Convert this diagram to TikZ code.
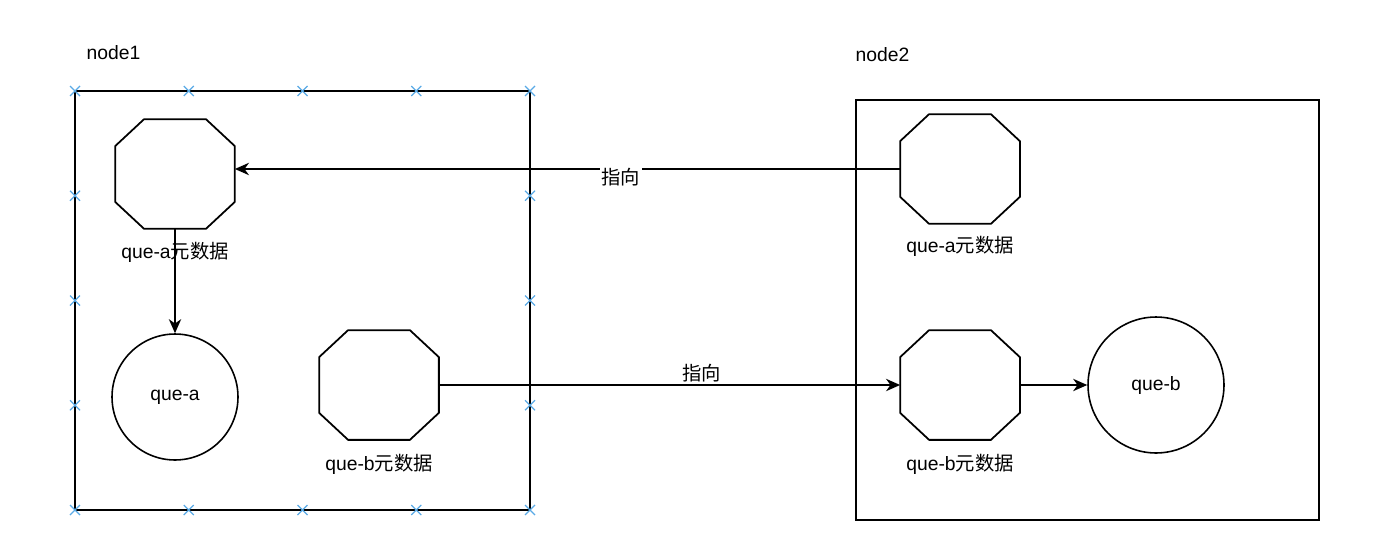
\documentclass[tikz,border=0pt]{standalone}
\usepackage{fontspec}
\setmainfont{Liberation Sans}
\newfontfamily\cjk{Noto Sans CJK SC}
\usetikzlibrary{arrows.meta,positioning}
\definecolor{selblue}{RGB}{90,170,230}
\tikzset{
  host/.style={draw, rectangle, inner sep=0},
  meta/.style={rectangle, minimum width=2.36cm, minimum height=2.16cm, inner sep=0,
    append after command={\pgfextra{\draw
      ([xshift=0.58cm]\tikzlastnode.north west) -- ([xshift=-0.58cm]\tikzlastnode.north east)
      -- ([yshift=-0.54cm]\tikzlastnode.north east) -- ([yshift=0.54cm]\tikzlastnode.south east)
      -- ([xshift=-0.58cm]\tikzlastnode.south east) -- ([xshift=0.58cm]\tikzlastnode.south west)
      -- ([yshift=0.54cm]\tikzlastnode.south west) -- ([yshift=-0.54cm]\tikzlastnode.north west) -- cycle;}}},
  queue/.style={draw, circle, line width=0.9pt, inner sep=0},
  caption/.style={inner sep=1pt},
  selmark/.style={draw=selblue, line width=0.7pt}
}
\newcommand{\zhtext}[1]{{\cjk #1}}

\begin{document}
\begin{tikzpicture}[x=0.02cm,y=-0.02cm,>={Stealth[length=8pt,width=7pt,inset=2.5pt]},
                    font=\fontsize{11}{13}\selectfont,line width=1pt]
\useasboundingbox (0,0) rectangle (1392,544);

% hosts
\node [host, minimum width=9.1cm, minimum height=8.38cm] (h1) at (302.5,300.5) {};
\node [host, minimum width=9.26cm, minimum height=8.4cm] (h2) at (1087.5,310) {};
\node [caption, anchor=west] (h1t) at (84,53) {node1};
\node [caption, anchor=west] (h2t) at (853,55) {node2};

% node1
\node [meta] (a1) at (175,174) {};
\node [caption] (a1t) [below=0.21cm of a1] {que-a\zhtext{元数据}};
\node [queue, minimum size=2.52cm] (qa) at (175,397) {que-a};
\node [meta] (b1) at (379,385) {};
\node [caption] (b1t) [below=0.24cm of b1] {que-b\zhtext{元数据}};

% node2
\node [meta] (a2) at (960,169) {};
\node [caption] (a2t) [below=0.2cm of a2] {que-a\zhtext{元数据}};
\node [meta] (b2) at (960,385) {};
\node [caption] (b2t) [below=0.24cm of b2] {que-b\zhtext{元数据}};
\node [queue, minimum size=2.72cm] (qb) at (1156,385) {que-b};

% selection marks on node1
\foreach \x in {75,188.75,302.5,416.25,530}
  \foreach \y in {91,510}
    \draw [selmark] (\x,\y) +(-5,-5) -- +(5,5) +(-5,5) -- +(5,-5);
\foreach \x in {75,530}
  \foreach \y in {195.75,300.5,405.25}
    \draw [selmark] (\x,\y) +(-5,-5) -- +(5,5) +(-5,5) -- +(5,-5);

% connectors
\draw [->] (a2) -- node [caption, fill=white, pos=0.42, yshift=-0.17cm] {\zhtext{指向}} (a2 -| a1.east);
\draw [->] (a1) -- (qa);
\draw [->] (b1) -- node [caption, above, pos=0.57] {\zhtext{指向}} (b2);
\draw [->] (b2) -- (qb);
\end{tikzpicture}
\end{document}
